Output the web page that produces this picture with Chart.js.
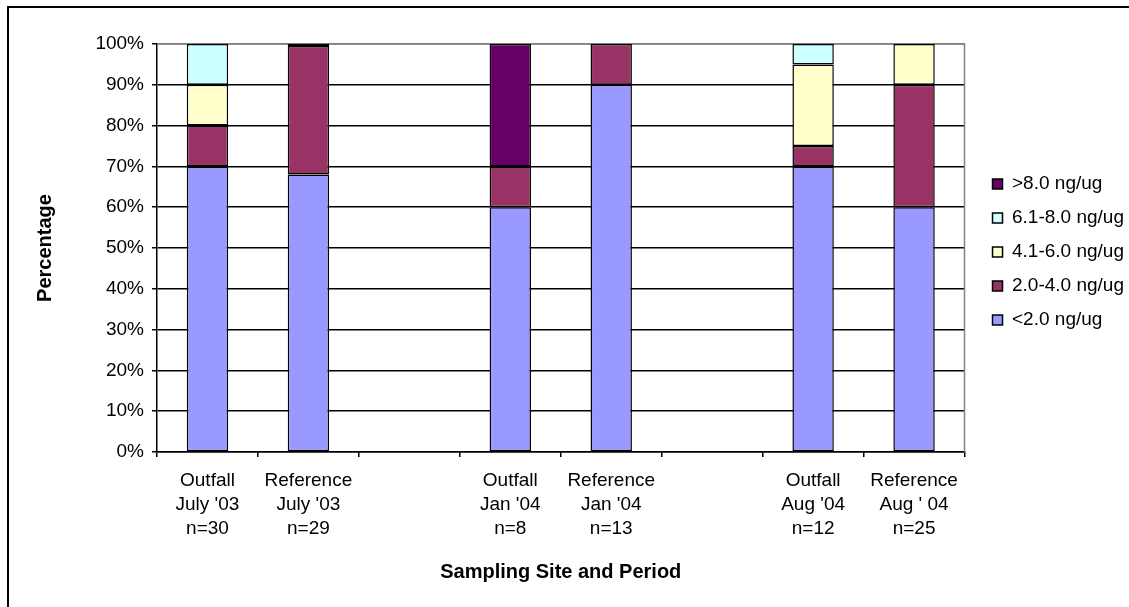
<!DOCTYPE html>
<html>
<head>
<meta charset="utf-8">
<script src="https://cdn.jsdelivr.net/npm/chart.js@4/dist/chart.umd.min.js"></script>
<style>
  html, body { margin: 0; padding: 0; background: #fff; overflow: hidden; }
  #wrap { position: relative; width: 1129px; height: 607px; }
  #frame { position: absolute; left: 7px; top: 6px; width: 1300px; height: 800px;
           border: 2px solid #000; box-sizing: border-box; }
  #c { position: absolute; left: 0; top: 0; }
</style>
</head>
<body>
<div id="wrap">
  <div id="frame"></div>
  <canvas id="c" width="1129" height="607"></canvas>
</div>
<script>
// Sampling site / period groups (blank slots separate the three periods)
const categories = [
  ['Outfall', "July '03", 'n=30'],
  ['Reference', "July '03", 'n=29'],
  '',
  ['Outfall', "Jan '04", 'n=8'],
  ['Reference', "Jan '04", 'n=13'],
  '',
  ['Outfall', "Aug '04", 'n=12'],
  ['Reference', "Aug ' 04", 'n=25']
];

// Percentage of samples in each concentration class
const below2   = [70, 68,   null, 60, 90, null, 70, 60];
const from2to4 = [10, 31.5, null, 10, 10, null, 5,  30];
const from4to6 = [10, 0.5,  null, null, null, null, 20, 10];
const from6to8 = [10, null, null, null, null, null, 5,  null];
const above8   = [null, null, null, 30, null, null, null, null];

const seriesLabels = ['<2.0 ng/ug', '2.0-4.0 ng/ug', '4.1-6.0 ng/ug', '6.1-8.0 ng/ug', '>8.0 ng/ug'];
const seriesColors = ['#9999FF', '#993366', '#FFFFCC', '#CCFFFF', '#660066'];
const yTicks = [0, 10, 20, 30, 40, 50, 60, 70, 80, 90, 100];

const FONT = "'Liberation Sans', Arial, sans-serif";

const seriesData = [below2, from2to4, from4to6, from6to8, above8];
const datasets = seriesData.map((d, i) => ({
  label: seriesLabels[i],
  data: d,
  backgroundColor: seriesColors[i],
  borderColor: '#000',
  borderWidth: 1.5,
  borderSkipped: false,
  barPercentage: 0.41,
  categoryPercentage: 1.0
}));

// Grey frame along the top and right of the plot area
const plotFrame = {
  id: 'plotFrame',
  beforeDatasetsDraw(chart) {
    const { ctx, chartArea: a } = chart;
    ctx.save();
    ctx.strokeStyle = '#808080';
    ctx.lineWidth = 1.5;
    ctx.beginPath();
    ctx.moveTo(a.left, a.top);
    ctx.lineTo(a.right, a.top);
    ctx.lineTo(a.right, a.bottom);
    ctx.stroke();
    ctx.restore();
  }
};

// Legend: a little further from the plot, centred on the plot area's height
const legendPlacement = {
  id: 'legendPlacement',
  afterLayout(chart) {
    const lg = chart.legend;
    if (!lg) return;
    const a = chart.chartArea;
    lg.left += 13; lg.right += 13;
    lg.top = a.top + 8;
    lg.bottom = a.bottom;
    lg.height = lg.bottom - lg.top;
  }
};

new Chart(document.getElementById('c'), {
  type: 'bar',
  data: { labels: categories, datasets },
  plugins: [plotFrame, legendPlacement],
  options: {
    responsive: false,
    devicePixelRatio: 1,
    animation: false,
    layout: { padding: { left: 33, top: 44, right: 8, bottom: 23 } },
    plugins: {
      legend: {
        position: 'right',
        reverse: true,
        labels: {
          boxWidth: 10,
          boxHeight: 10,
          padding: 15,
          color: '#000',
          font: { family: FONT, size: 19 }
        }
      },
      tooltip: { enabled: false }
    },
    scales: {
      x: {
        stacked: true,
        grid: {
          offset: true,
          drawOnChartArea: false,
          drawTicks: true,
          tickLength: 5,
          color: '#000',
          lineWidth: 1.5
        },
        border: { color: '#000', width: 1.5 },
        ticks: {
          color: '#000',
          padding: 12,
          maxRotation: 0,
          autoSkip: false,
          font: { family: FONT, size: 19, lineHeight: 1.263 }
        },
        title: {
          display: true,
          text: 'Sampling Site and Period',
          color: '#000',
          padding: 0,
          font: { family: FONT, size: 20, weight: 'bold', lineHeight: 1.2 }
        },
        afterFit(scale) { scale.height = 132; }
      },
      y: {
        stacked: true,
        min: 0,
        max: 100,
        afterBuildTicks(scale) { scale.ticks = yTicks.map(v => ({ value: v })); },
        grid: {
          color: (c) => (c.tick && c.tick.value === 100 ? '#808080' : '#000'),
          tickColor: '#000',
          lineWidth: 1.5,
          tickLength: 5
        },
        border: { color: '#000', width: 1.5 },
        ticks: {
          color: '#000',
          padding: 8,
          font: { family: FONT, size: 19 },
          callback: (v) => v + '%'
        },
        title: {
          display: true,
          text: 'Percentage',
          color: '#000',
          padding: 0,
          font: { family: FONT, size: 20, weight: 'bold', lineHeight: 1.2 }
        },
        afterFit(scale) { scale.width = 124; }
      }
    }
  }
});
</script>
</body>
</html>
